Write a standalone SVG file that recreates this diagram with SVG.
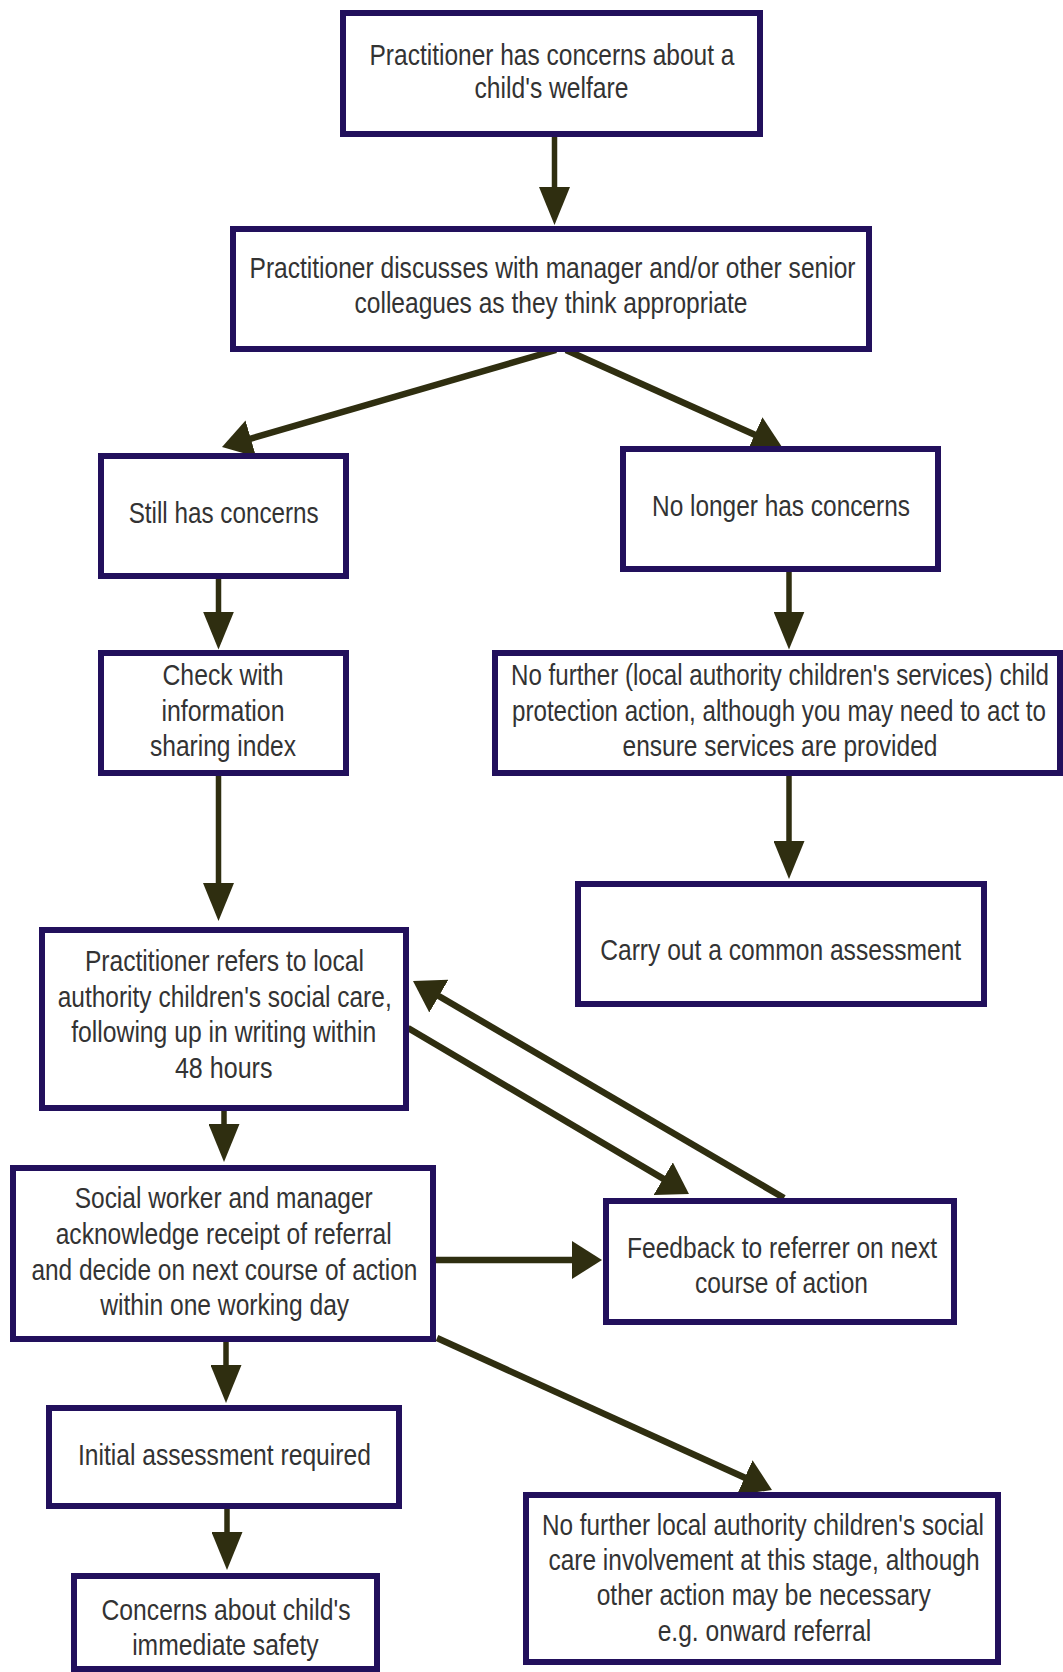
<svg xmlns="http://www.w3.org/2000/svg" width="1063" height="1672" viewBox="0 0 1063 1672">
<defs>
<style>
.box{fill:#ffffff;stroke:#22105c;stroke-width:6}
.t{font-family:"Liberation Sans Narrow","Liberation Sans",Arial,sans-serif;font-size:30px;fill:#333333;text-anchor:middle}
.cv{stroke:#2f2e10;stroke-width:5.5;fill:none;marker-end:url(#arrV)}
.cd{stroke:#2f2e10;stroke-width:6.5;fill:none;marker-end:url(#arrD)}
</style>
<marker id="arrV" markerUnits="userSpaceOnUse" markerWidth="38" markerHeight="31" refX="30" refY="15.5" orient="auto" viewBox="0 0 38 31">
<path d="M0,0 L38,15.5 L0,31 Z" fill="#2f2e10"/>
</marker>
<marker id="arrD" markerUnits="userSpaceOnUse" markerWidth="30" markerHeight="38" refX="22" refY="19" orient="auto" viewBox="0 0 30 38">
<path d="M0,0 L30,19 L0,38 Z" fill="#2f2e10"/>
</marker>
</defs>
<rect width="1063" height="1672" fill="#ffffff"/>

<g id="connectors">
<line class="cv" x1="554.5" y1="137" x2="554.5" y2="217"/>
<line class="cd" x1="556" y1="350" x2="229.7" y2="444.8"/>
<line class="cd" x1="566" y1="350" x2="774.7" y2="443.7"/>
<line class="cv" x1="218.5" y1="579" x2="218.5" y2="641.6"/>
<line class="cv" x1="789" y1="572" x2="789" y2="641.6"/>
<line class="cv" x1="789" y1="776" x2="789" y2="871"/>
<line class="cv" x1="218.5" y1="776" x2="218.5" y2="913"/>
<line class="cv" x1="224" y1="1111" x2="224" y2="1154"/>
<line class="cd" x1="408" y1="1028" x2="682.1" y2="1189.9"/>
<line class="cd" x1="784" y1="1198" x2="419.9" y2="985"/>
<line class="cd" x1="436" y1="1260" x2="594" y2="1260"/>
<line class="cv" x1="226" y1="1342" x2="226" y2="1395"/>
<line class="cd" x1="437" y1="1338" x2="764.7" y2="1486.7"/>
<line class="cv" x1="227" y1="1509" x2="227" y2="1562"/>
</g>

<g id="n1">
<rect class="box" x="343" y="13" width="417" height="121"/>
<text class="t" x="552" y="65" textLength="365" lengthAdjust="spacingAndGlyphs">Practitioner has concerns about a</text>
<text class="t" x="551.5" y="98" textLength="154" lengthAdjust="spacingAndGlyphs">child's welfare</text>
</g>

<g id="n2">
<rect class="box" x="233" y="229" width="636" height="120"/>
<text class="t" x="552.5" y="278" textLength="606" lengthAdjust="spacingAndGlyphs">Practitioner discusses with manager and/or other senior</text>
<text class="t" x="551" y="313" textLength="393" lengthAdjust="spacingAndGlyphs">colleagues as they think appropriate</text>
</g>

<g id="n3">
<rect class="box" x="101" y="456" width="245" height="120"/>
<text class="t" x="223.7" y="523" textLength="190" lengthAdjust="spacingAndGlyphs">Still has concerns</text>
</g>

<g id="n4">
<rect class="box" x="623" y="449" width="315" height="120"/>
<text class="t" x="781" y="516" textLength="258" lengthAdjust="spacingAndGlyphs">No longer has concerns</text>
</g>

<g id="n5">
<rect class="box" x="101" y="653" width="245" height="120"/>
<text class="t" x="223" y="685" textLength="121" lengthAdjust="spacingAndGlyphs">Check with</text>
<text class="t" x="223" y="721" textLength="123" lengthAdjust="spacingAndGlyphs">information</text>
<text class="t" x="223" y="756" textLength="146" lengthAdjust="spacingAndGlyphs">sharing index</text>
</g>

<g id="n6">
<rect class="box" x="495" y="653" width="565" height="120"/>
<text class="t" x="780" y="685" textLength="538" lengthAdjust="spacingAndGlyphs">No further (local authority children's services) child</text>
<text class="t" x="779" y="721" textLength="534" lengthAdjust="spacingAndGlyphs">protection action, although you may need to act to</text>
<text class="t" x="780" y="756" textLength="315" lengthAdjust="spacingAndGlyphs">ensure services are provided</text>
</g>

<g id="n7">
<rect class="box" x="578" y="884" width="406" height="120"/>
<text class="t" x="780.7" y="960" textLength="361" lengthAdjust="spacingAndGlyphs">Carry out a common assessment</text>
</g>

<g id="n8">
<rect class="box" x="42" y="930" width="364" height="178"/>
<text class="t" x="224.4" y="971" textLength="279" lengthAdjust="spacingAndGlyphs">Practitioner refers to local</text>
<text class="t" x="224.7" y="1007" textLength="334" lengthAdjust="spacingAndGlyphs">authority children's social care,</text>
<text class="t" x="223.7" y="1042" textLength="305" lengthAdjust="spacingAndGlyphs">following up in writing within</text>
<text class="t" x="223.7" y="1078" textLength="97.5" lengthAdjust="spacingAndGlyphs">48 hours</text>
</g>

<g id="n9">
<rect class="box" x="13" y="1168" width="420" height="171"/>
<text class="t" x="223.7" y="1208" textLength="298" lengthAdjust="spacingAndGlyphs">Social worker and manager</text>
<text class="t" x="223.7" y="1244" textLength="336" lengthAdjust="spacingAndGlyphs">acknowledge receipt of referral</text>
<text class="t" x="224.4" y="1280" textLength="386" lengthAdjust="spacingAndGlyphs">and decide on next course of action</text>
<text class="t" x="224.7" y="1315" textLength="249" lengthAdjust="spacingAndGlyphs">within one working day</text>
</g>

<g id="n10">
<rect class="box" x="606" y="1201" width="348" height="121"/>
<text class="t" x="782" y="1258" textLength="310" lengthAdjust="spacingAndGlyphs">Feedback to referrer on next</text>
<text class="t" x="781.4" y="1293" textLength="173" lengthAdjust="spacingAndGlyphs">course of action</text>
</g>

<g id="n11">
<rect class="box" x="49" y="1408" width="350" height="98"/>
<text class="t" x="224.4" y="1465" textLength="293" lengthAdjust="spacingAndGlyphs">Initial assessment required</text>
</g>

<g id="n12">
<rect class="box" x="74" y="1576" width="303" height="93"/>
<text class="t" x="226" y="1620" textLength="249" lengthAdjust="spacingAndGlyphs">Concerns about child's</text>
<text class="t" x="225.4" y="1655" textLength="186.5" lengthAdjust="spacingAndGlyphs">immediate safety</text>
</g>

<g id="n13">
<rect class="box" x="526" y="1495" width="472" height="167"/>
<text class="t" x="763" y="1535" textLength="442" lengthAdjust="spacingAndGlyphs">No further local authority children's social</text>
<text class="t" x="764" y="1570" textLength="431" lengthAdjust="spacingAndGlyphs">care involvement at this stage, although</text>
<text class="t" x="763.7" y="1605" textLength="334" lengthAdjust="spacingAndGlyphs">other action may be necessary</text>
<text class="t" x="764.4" y="1641" textLength="213.5" lengthAdjust="spacingAndGlyphs">e.g. onward referral</text>
</g>
</svg>
